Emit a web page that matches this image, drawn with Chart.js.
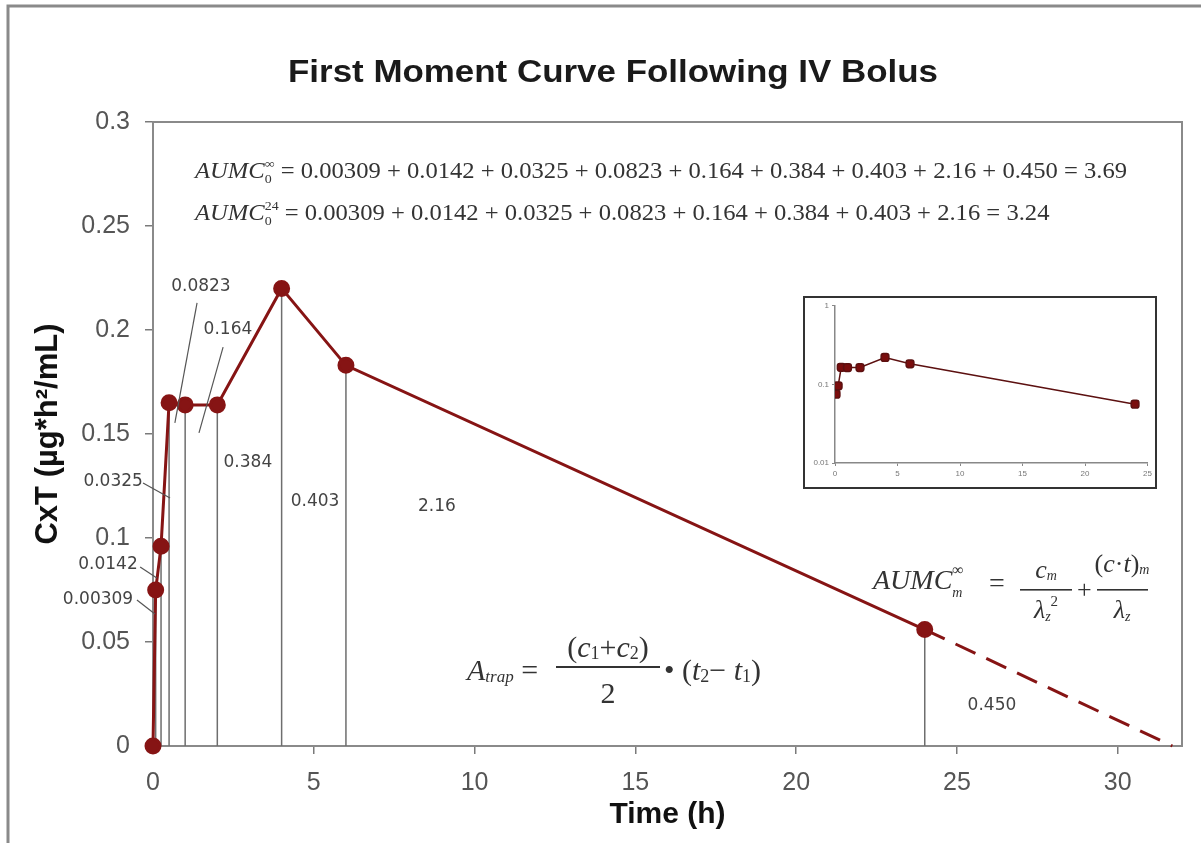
<!DOCTYPE html>
<html>
<head>
<meta charset="utf-8">
<script src="https://cdn.jsdelivr.net/npm/chart.js@4.4.0/dist/chart.umd.min.js"></script>
<style>
  body { margin: 0; background: #fff; }
  #wrap { position: relative; width: 1201px; height: 843px; }
  #main { display: block; }
  #inset { position: absolute; left: 803px; top: 296px; width: 354px; height: 193px; box-sizing: border-box; border: 2px solid #333; background: #fff; }
  #small { display: block; }
</style>
</head>
<body>
<div id="wrap">
  <canvas id="main" width="1201" height="843"></canvas>
  <div id="inset"><canvas id="small" width="350" height="189"></canvas></div>
</div>
<script>
// sampled times (h) and C x T values
const times = [0, 0.083, 0.25, 0.5, 1, 2, 4, 6, 24];
const cxt = [0, 0.075, 0.096, 0.165, 0.164, 0.164, 0.220, 0.183, 0.056];
// extrapolated tail past the last sample
const extrapTimes = [24, 31.7];
const extrapValues = [0.056, 0];
// trapezoid areas, one per segment (last one is the tail)
const segmentAreas = ['0.00309', '0.0142', '0.0325', '0.0823', '0.164', '0.384', '0.403', '2.16', '0.450'];

const xTicks = [0, 5, 10, 15, 20, 25, 30];
const yTicks = [0, 0.05, 0.1, 0.15, 0.2, 0.25, 0.3];
const insetXTicks = [0, 5, 10, 15, 20, 25];
const insetYTicks = [0.01, 0.1, 1];

const red = '#861414';
const sans = '"Liberation Sans", Arial, sans-serif';
const serif = '"Liberation Serif", "Times New Roman", serif';

// draw a run of text pieces: [text, font, dy, hold]
function drawRuns(ctx, x, y, parts, measureOnly) {
    let cx = x;
    let held = 0;
    parts.forEach(p => {
        const text = p[0], font = p[1], dy = p[2] || 0, hold = p[3] || false;
        ctx.font = font;
        const w = ctx.measureText(text).width;
        if (!measureOnly) ctx.fillText(text, cx, y + dy);
        if (hold) {
            held = Math.max(held, w);
        } else {
            cx += Math.max(w, held);
            held = 0;
        }
    });
    return cx - x;
}

function centered(ctx, cx, y, parts) {
    const w = drawRuns(ctx, 0, 0, parts, true);
    drawRuns(ctx, cx - w / 2, y, parts);
}

const total = segmentAreas.reduce((a, b) => a + parseFloat(b), 0);
const total24 = segmentAreas.slice(0, 8).reduce((a, b) => a + parseFloat(b), 0);

// where each area label sits (data coords) and its leader line
const areaLabels = [
    { i: 0, at: [-1.71, 0.0702], lead: [[-0.50, 0.0702], [0.06, 0.0635]] },
    { i: 1, at: [-1.40, 0.0870], lead: [[-0.40, 0.0861], [0.12, 0.0808]] },
    { i: 2, at: [-1.24, 0.1269], lead: [[-0.31, 0.1264], [0.53, 0.1192]] },
    { i: 3, at: [1.49, 0.2207], lead: [[1.37, 0.2130], [0.68, 0.1553]] },
    { i: 4, at: [2.33, 0.2000], lead: [[2.18, 0.1918], [1.43, 0.1505]] },
    { i: 5, at: [2.95, 0.1361] },
    { i: 6, at: [5.04, 0.1173] },
    { i: 7, at: [8.83, 0.1149] },
    { i: 8, at: [26.09, 0.0192] }
];

const decor = {
    id: 'decor',
    beforeDraw(chart) {
        const ctx = chart.ctx;
        ctx.save();
        ctx.strokeStyle = '#8a8a8a';
        ctx.lineWidth = 3;
        ctx.beginPath();
        ctx.moveTo(8, 843);
        ctx.lineTo(8, 6);
        ctx.lineTo(1201, 6);
        ctx.stroke();
        ctx.restore();
    },
    beforeDatasetsDraw(chart) {
        const ctx = chart.ctx, a = chart.chartArea;
        ctx.save();
        ctx.strokeStyle = '#8a8a8a';
        ctx.lineWidth = 2;
        ctx.strokeRect(a.left, a.top, a.right - a.left, a.bottom - a.top);
        ctx.restore();
    },
    afterDraw(chart) {
        const ctx = chart.ctx;
        const xs = chart.scales.x, ys = chart.scales.y;
        const P = (v) => [xs.getPixelForValue(v[0]), ys.getPixelForValue(v[1])];
        ctx.save();

        // title
        ctx.fillStyle = '#1a1a1a';
        ctx.textAlign = 'left';
        ctx.textBaseline = 'middle';
        ctx.font = 'bold 31px ' + sans;
        const title = 'First Moment Curve Following IV Bolus';
        const tw = ctx.measureText(title).width;
        ctx.save();
        ctx.translate(288, 73);
        ctx.scale(650 / tw, 1);
        ctx.fillText(title, 0, 0);
        ctx.restore();

        // area labels
        ctx.font = '17px "DejaVu Sans", sans-serif';
        ctx.fillStyle = '#444';
        ctx.strokeStyle = '#555';
        ctx.lineWidth = 1.2;
        ctx.textAlign = 'center';
        areaLabels.forEach(l => {
            const p = P(l.at);
            ctx.fillText(segmentAreas[l.i], p[0], p[1]);
            if (l.lead) {
                const a = P(l.lead[0]), b = P(l.lead[1]);
                ctx.beginPath();
                ctx.moveTo(a[0], a[1]);
                ctx.lineTo(b[0], b[1]);
                ctx.stroke();
            }
        });

        // AUMC sums at the top
        ctx.textAlign = 'left';
        ctx.textBaseline = 'alphabetic';
        ctx.fillStyle = '#333';
        const big = '23px ' + serif, it = 'italic 23px ' + serif, sm = '13px ' + serif;
        const row1 = [['AUMC', it], ['\u221e', sm, -10, true], ['0', sm, 5],
            [' = ' + segmentAreas.join(' + ') + ' = ' + total.toFixed(2), big]];
        const row2 = [['AUMC', it], ['24', sm, -10, true], ['0', sm, 5],
            [' = ' + segmentAreas.slice(0, 8).join(' + ') + ' = ' + total24.toFixed(2), big]];
        const sx = 932 / drawRuns(ctx, 0, 0, row1, true);
        ctx.save();
        ctx.translate(195, 178);
        ctx.scale(sx, 1);
        drawRuns(ctx, 0, 0, row1);
        ctx.restore();
        ctx.save();
        ctx.translate(195, 220);
        ctx.scale(sx, 1);
        drawRuns(ctx, 0, 0, row2);
        ctx.restore();

        // trapezoid rule
        const f30 = '30px ' + serif, i30 = 'italic 30px ' + serif, s18 = '18px ' + serif;
        drawRuns(ctx, 467, 680, [['A', i30], ['trap', 'italic 17px ' + serif, 2], [' =', f30]]);
        centered(ctx, 608, 657, [['(', f30], ['c', i30], ['1', s18, 2], ['+', f30], ['c', i30], ['2', s18, 2], [')', f30]]);
        ctx.fillRect(556, 666, 104, 2);
        centered(ctx, 608, 703, [['2', f30]]);
        drawRuns(ctx, 664, 680, [['\u2022 (', f30], ['t', i30], ['2', s18, 2], ['\u2212 ', f30], ['t', i30], ['1', s18, 2], [')', f30]]);

        // tail formula
        const f26 = '26px ' + serif, i26 = 'italic 26px ' + serif, i14 = 'italic 14px ' + serif;
        drawRuns(ctx, 873, 589, [['AUMC', 'italic 28px ' + serif], ['\u221e', '16px ' + serif, -14, true], ['m', i14, 8]]);
        drawRuns(ctx, 989, 592, [['=', '28px ' + serif]]);
        centered(ctx, 1046, 578, [['c', i26], ['m', i14, 2]]);
        ctx.fillRect(1020, 589, 52, 1.6);
        centered(ctx, 1046, 618, [['\u03bb', i26], ['z', i14, 3], ['2', '15px ' + serif, -12]]);
        drawRuns(ctx, 1077, 598, [['+', f26]]);
        centered(ctx, 1122, 572, [['(', f26], ['c', i26], ['\u00b7', f26], ['t', i26], [')', f26], ['m', i14, 2]]);
        ctx.fillRect(1097, 589, 51, 1.6);
        centered(ctx, 1122, 618, [['\u03bb', i26], ['z', i14, 3]]);

        ctx.restore();
    }
};

// vertical lines from every sample down to the axis
const drops = [];
times.forEach((t, i) => {
    if (t === 0) return;
    drops.push({ x: t, y: 0 }, { x: t, y: cxt[i] }, { x: t, y: null });
});

new Chart(document.getElementById('main'), {
    type: 'scatter',
    data: {
        datasets: [
            {
                label: 'CxT',
                data: times.map((t, i) => ({ x: t, y: cxt[i] })),
                showLine: true,
                borderColor: red,
                backgroundColor: red,
                borderWidth: 3,
                pointRadius: 7,
                pointHoverRadius: 7,
                clip: 12,
                order: 0
            },
            {
                label: 'tail',
                data: extrapTimes.map((t, i) => ({ x: t, y: extrapValues[i] })),
                showLine: true,
                borderColor: red,
                borderWidth: 3,
                borderDash: [22, 12],
                pointRadius: 0,
                clip: 4,
                order: 1
            },
            {
                label: 'areas',
                data: drops,
                showLine: true,
                spanGaps: false,
                borderColor: '#6e6e6e',
                borderWidth: 1.5,
                pointRadius: 0,
                order: 2
            }
        ]
    },
    options: {
        responsive: false,
        animation: false,
        events: [],
        layout: { padding: { left: 10, top: 122, right: 19, bottom: 0 } },
        plugins: { legend: { display: false }, tooltip: { enabled: false } },
        scales: {
            x: {
                type: 'linear',
                min: 0,
                max: 32,
                afterBuildTicks: s => { s.ticks = xTicks.map(v => ({ value: v })); },
                afterFit: s => { s.height = 97; },
                ticks: { font: { family: sans, size: 25 }, color: '#555', padding: 14, maxRotation: 0, callback: v => String(v) },
                grid: { drawOnChartArea: false, tickLength: 8, color: '#7a7a7a', lineWidth: 1.5 },
                border: { color: '#8a8a8a', width: 2 },
                title: { display: true, text: 'Time (h)', color: '#111', font: { family: sans, size: 30, weight: 'bold' }, padding: { top: 0, bottom: 10 } }
            },
            y: {
                min: 0,
                max: 0.3,
                afterBuildTicks: s => { s.ticks = yTicks.map(v => ({ value: v })); },
                afterFit: s => { s.width = 143; },
                ticks: { font: { family: sans, size: 25 }, color: '#555', padding: 15, callback: v => String(+v.toFixed(2)) },
                grid: { drawOnChartArea: false, tickLength: 8, color: '#7a7a7a', lineWidth: 1.5 },
                border: { color: '#8a8a8a', width: 2 },
                title: { display: true, text: 'CxT (\u00b5g*h\u00b2/mL)', color: '#111', font: { family: sans, size: 31, weight: 'bold' }, padding: { top: 20, bottom: 0 } }
            }
        }
    },
    plugins: [decor]
});

// log-scale inset
new Chart(document.getElementById('small'), {
    type: 'scatter',
    data: {
        datasets: [{
            data: times.slice(1).map((t, i) => ({ x: t, y: cxt[i + 1] })),
            showLine: true,
            borderColor: '#5c1010',
            backgroundColor: '#7a0d0d',
            borderWidth: 1.5,
            pointStyle: 'rectRounded',
            pointRadius: 4.5,
            pointHoverRadius: 4.5
        }]
    },
    options: {
        responsive: false,
        animation: false,
        events: [],
        layout: { padding: { left: 0, top: 5, right: 7, bottom: 0 } },
        plugins: { legend: { display: false }, tooltip: { enabled: false } },
        scales: {
            x: {
                type: 'linear',
                min: 0,
                max: 25,
                afterBuildTicks: s => { s.ticks = insetXTicks.map(v => ({ value: v })); },
                afterFit: s => { s.height = 24; },
                ticks: { font: { family: sans, size: 8 }, color: '#777', padding: 3, maxRotation: 0, callback: v => String(v) },
                grid: { drawOnChartArea: false, tickLength: 3, color: '#888' },
                border: { color: '#888', width: 1.5 }
            },
            y: {
                type: 'logarithmic',
                min: 0.01,
                max: 1,
                afterBuildTicks: s => { s.ticks = insetYTicks.map(v => ({ value: v })); },
                afterFit: s => { s.width = 30; },
                ticks: { font: { family: sans, size: 8 }, color: '#777', padding: 3, callback: v => String(v) },
                grid: { drawOnChartArea: false, tickLength: 3, color: '#888' },
                border: { color: '#888', width: 1.5 }
            }
        }
    }
});
</script>
</body>
</html>
